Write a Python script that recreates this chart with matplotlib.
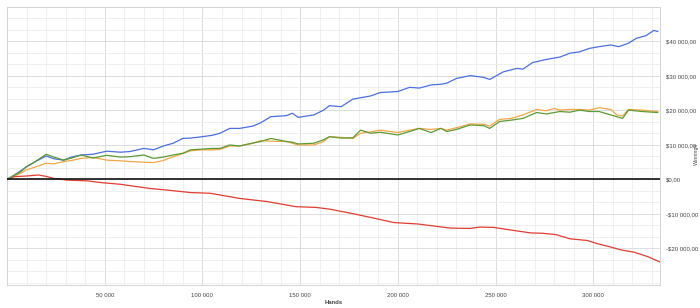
import matplotlib
matplotlib.use("Agg")
import matplotlib.pyplot as plt
from matplotlib.ticker import FixedLocator, MultipleLocator, FuncFormatter

# ---- data (hands in thousands, winnings in thousands of $) ----
blue_x = [0, 3, 7, 10, 14, 20, 24, 29, 33, 38, 44, 51, 58, 63, 70, 75, 80, 85, 90, 94,
          100, 105, 109, 114, 119, 126, 130, 135, 143, 146, 149, 157, 162, 165, 171, 177,
          186, 191, 200, 206, 211, 217, 222, 225, 230, 237, 244, 247, 254, 261, 264, 269,
          276, 283, 288, 293, 298, 303, 309, 313, 318, 322, 327, 331, 333]
blue_y = [0, 1.0, 2.5, 3.7, 5.0, 6.8, 6.0, 5.6, 6.5, 7.1, 7.3, 8.2, 7.9, 8.1, 9.0, 8.6, 9.7, 10.5, 11.9, 12.0,
          12.4, 12.8, 13.4, 14.8, 14.8, 15.5, 16.5, 18.2, 18.5, 19.2, 18.0, 18.7, 20.1, 21.4, 21.1, 23.3,
          24.2, 25.2, 25.5, 26.7, 26.5, 27.4, 27.6, 27.9, 29.3, 30.1, 29.6, 29.0, 31.2, 32.2, 32.0, 33.9,
          34.8, 35.5, 36.6, 37.0, 38.0, 38.5, 39.0, 38.5, 39.5, 40.9, 41.7, 43.2, 42.9]

orange_x = [0, 3, 7, 10, 14, 20, 24, 29, 33, 38, 44, 51, 58, 63, 70, 75, 80, 85, 90, 94,
            100, 105, 109, 114, 119, 126, 130, 135, 143, 146, 149, 157, 162, 165, 171, 177,
            181, 186, 191, 200, 206, 211, 217, 222, 225, 230, 237, 244, 247, 252, 258, 264,
            271, 276, 280, 283, 288, 293, 298, 303, 309, 312, 315, 318, 325, 333]
orange_y = [0, 0.8, 1.8, 2.8, 3.5, 4.7, 4.5, 5.2, 5.5, 6.1, 6.4, 5.6, 5.4, 5.2, 5.0, 4.9, 5.5, 6.6, 7.5, 8.3,
            8.6, 8.6, 8.7, 9.7, 9.7, 10.5, 11.3, 11.1, 11.0, 10.5, 10.0, 10.0, 11.0, 12.4, 12.2, 11.9,
            13.4, 13.8, 14.3, 13.6, 14.3, 14.8, 14.5, 14.8, 14.3, 15.0, 16.1, 16.0, 15.5, 17.4, 17.7, 18.7,
            20.3, 19.9, 20.6, 20.1, 20.3, 20.3, 20.1, 20.8, 20.3, 18.7, 18.4, 20.3, 20.1, 19.7]

green_x = [0, 3, 7, 10, 14, 20, 24, 29, 33, 38, 44, 51, 58, 63, 70, 75, 80, 85, 90, 94,
           100, 105, 109, 114, 119, 126, 130, 135, 143, 146, 149, 157, 162, 165, 171, 177,
           181, 186, 191, 200, 206, 211, 217, 222, 225, 230, 237, 244, 247, 252, 258, 264,
           271, 276, 280, 283, 288, 293, 298, 303, 309, 315, 318, 325, 333]
green_y = [0, 1.0, 2.2, 3.7, 5.0, 7.3, 6.5, 5.6, 6.2, 7.1, 6.2, 7.0, 6.5, 6.6, 7.1, 6.1, 6.5, 7.1, 7.6, 8.6,
           8.8, 9.0, 9.0, 10.0, 9.7, 10.6, 11.0, 11.9, 11.0, 10.8, 10.3, 10.5, 11.5, 12.4, 12.0, 12.1,
           14.3, 13.4, 13.7, 12.9, 13.9, 14.8, 13.6, 14.8, 13.9, 14.5, 15.8, 15.6, 14.8, 16.8, 17.2, 17.7,
           19.4, 19.0, 19.4, 19.7, 19.5, 20.1, 19.7, 19.7, 18.7, 17.7, 20.1, 19.7, 19.4]

red_x = [0, 3.5, 10, 16, 20, 24, 31, 41, 48, 58, 63, 73, 84, 94, 104, 114, 119, 133, 148, 158,
         165, 176, 186, 198, 210, 217, 227, 237, 242, 249, 257, 268, 274, 281, 288, 297, 302,
         309, 314, 321, 328, 334]
red_y = [0, 0.8, 1.0, 1.3, 0.9, 0.3, -0.2, -0.4, -0.9, -1.4, -1.8, -2.6, -3.2, -3.8, -4.0, -5.0, -5.5, -6.4, -7.9, -8.1,
         -8.6, -9.8, -11.0, -12.5, -12.9, -13.4, -14.1, -14.2, -13.8, -13.9, -14.6, -15.5, -15.6, -16.0, -17.2, -17.7, -18.6,
         -19.6, -20.4, -21.1, -22.4, -23.9]

x_ticks = [50000, 100000, 150000, 200000, 250000, 300000]
y_ticks = [-20000, -10000, 0, 10000, 20000, 30000, 40000]
x_label = "Hands"
y_label = "Winnings"

def k(v):
    return [t * 1000 for t in v]

fig = plt.figure(figsize=(7.0, 3.08), dpi=100)
ax = fig.add_axes([0.01, 1 - 285 / 308, 0.933, (285 - 7) / 308])

ax.set_xlim(0, 334200)
ax.set_ylim(-30600, 50000)

# grid
ax.xaxis.set_major_locator(FixedLocator(x_ticks))
ax.xaxis.set_minor_locator(MultipleLocator(10000))
ax.yaxis.set_major_locator(FixedLocator(y_ticks))
ax.yaxis.set_minor_locator(MultipleLocator(10000 / 3))
ax.grid(which="minor", color="#ededed", linewidth=0.6)
ax.grid(which="major", color="#dcdcdc", linewidth=0.7)
ax.set_axisbelow(True)

lw = 0.9
ax.plot(k(blue_x), k(blue_y), color="#4a6fdc", linewidth=lw, zorder=3)
ax.plot(k(orange_x), k(orange_y), color="#f2a649", linewidth=lw, zorder=3)
ax.plot(k(green_x), k(green_y), color="#5c9a35", linewidth=lw, zorder=4)
ax.plot(k(red_x), k(red_y), color="#e03c31", linewidth=lw, zorder=3)
ax.axhline(0, color="#111111", linewidth=1.2, zorder=5)

for s in ax.spines.values():
    s.set_color("#d4d4d4")
    s.set_linewidth(0.7)

ax.yaxis.tick_right()
ax.tick_params(axis="both", which="both", length=0, labelsize=4.3, colors="#444444")
ax.tick_params(axis="y", pad=4)
ax.tick_params(axis="x", pad=6)

def money(v, pos):
    s = f"{abs(v):,.0f}".replace(",", " ")
    return ("-" if v < 0 else "") + "$" + s + ",00"

ax.yaxis.set_major_formatter(FuncFormatter(money))
ax.xaxis.set_major_formatter(FuncFormatter(lambda v, p: f"{v:,.0f}".replace(",", " ")))
for lab in ax.get_xticklabels() + ax.get_yticklabels():
    lab.set_fontfamily("Liberation Sans")

fig.text(334 / 700, 1 - 303 / 308, x_label, ha="center", va="center", fontsize=4.3,
         fontweight="bold", color="#444444", family="Liberation Sans")
fig.text(0.9985, 0.5, y_label, rotation=90, ha="right", va="center", fontsize=3.8,
         color="#444444", family="Liberation Sans")

fig.savefig("out.png", dpi=100)
